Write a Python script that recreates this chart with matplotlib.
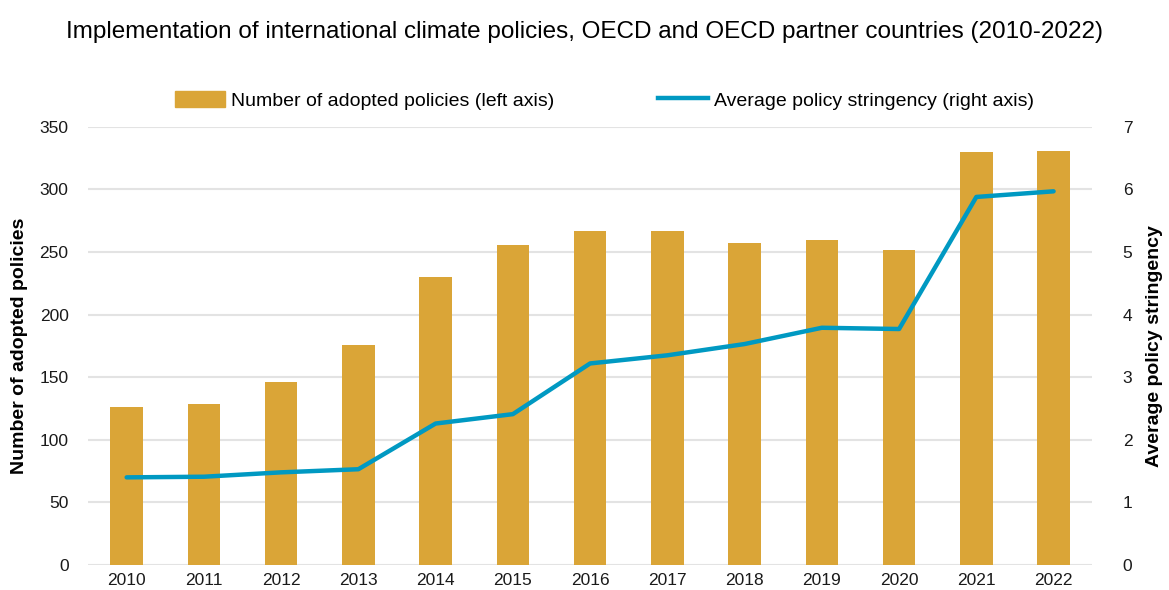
import matplotlib.pyplot as plt
from matplotlib.lines import Line2D
from matplotlib.patches import Patch

years = ["2010", "2011", "2012", "2013", "2014", "2015", "2016",
         "2017", "2018", "2019", "2020", "2021", "2022"]
adopted = [126, 129, 146, 176, 230, 256, 267, 267, 257, 260, 252, 330, 331]
stringency = [1.40, 1.41, 1.48, 1.53, 2.26, 2.41, 3.22, 3.35, 3.53, 3.79, 3.77, 5.88, 5.97]

bar_color = "#DAA537"
line_color = "#0099C2"
grid_color = "#E3E3E3"

plt.rcParams['font.family'] = ['Liberation Sans', 'DejaVu Sans']

fig = plt.figure(figsize=(11.69, 5.90), dpi=100)
ax = fig.add_axes([0.0753, 0.0424, 0.859, 0.7426])
ax2 = ax.twinx()

x = range(len(years))
ax.bar(x, adopted, width=0.42, color=bar_color, zorder=2)
ax2.plot(x, stringency, color=line_color, linewidth=3.2, solid_capstyle="round", zorder=3)

ax.set_ylim(0, 350)
ax.set_yticks(range(0, 351, 50))
ax2.set_ylim(0, 7)
ax2.set_yticks(range(0, 8))
ax.set_xlim(-0.5, len(years) - 0.5)
ax.set_xticks(list(x))
ax.set_xticklabels(years)

ax.yaxis.grid(True, color=grid_color, linewidth=1.5, zorder=0)
ax.set_axisbelow(True)
for a in (ax, ax2):
    for s in a.spines.values():
        s.set_visible(False)
    a.tick_params(length=0, labelsize=12.5, colors="#1a1a1a")
ax.tick_params(axis="y", pad=14)
ax2.tick_params(axis="y", pad=22)
ax.tick_params(axis="x", pad=6)

ax.set_ylabel("Number of adopted policies", fontsize=14, fontweight="bold", labelpad=8)
ax2.set_ylabel("Average policy stringency", fontsize=14, fontweight="bold", labelpad=10)

fig.suptitle("Implementation of international climate policies, OECD and OECD partner countries (2010-2022)",
             fontsize=17.5, y=0.965)

handles = [Patch(color=bar_color, label="Number of adopted policies (left axis)"),
           Line2D([0], [0], color=line_color, linewidth=3.2, label="Average policy stringency (right axis)")]
fig.legend(handles=handles, loc="center", bbox_to_anchor=(0.517, 0.83), ncol=2, frameon=False,
           fontsize=14, handlelength=2.6, handleheight=0.9, handletextpad=0.3, columnspacing=5.3)

fig.savefig("out.png", dpi=100)
